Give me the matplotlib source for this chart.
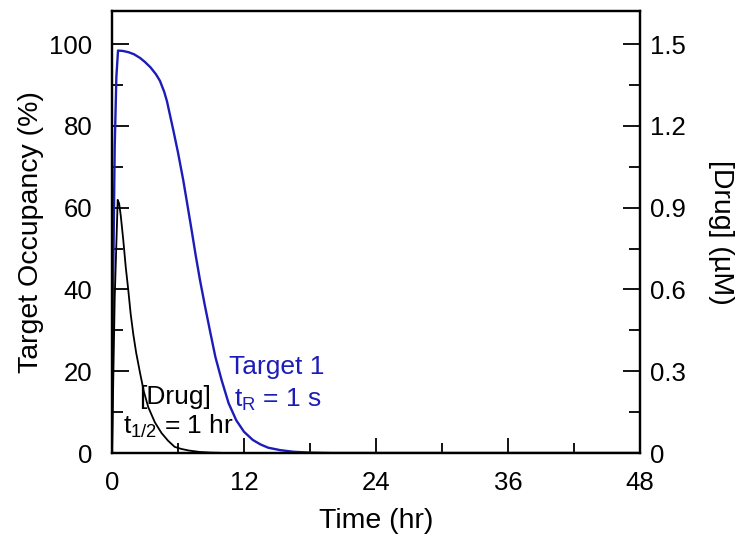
import numpy as np
import matplotlib
matplotlib.use("Agg")
from matplotlib import pyplot as plt
from matplotlib.ticker import MultipleLocator

plt.rcParams['font.family'] = ['Liberation Sans', 'DejaVu Sans']
plt.rcParams['mathtext.fontset'] = 'custom'
plt.rcParams['mathtext.rm'] = 'Liberation Sans'

# Target occupancy (%)
occ_time = [0, 0.1, 0.25, 0.4, 0.55, 1.0, 1.5, 2.0, 2.55, 3.0, 3.5, 4.0, 4.36, 4.75, 5.0,
            5.57, 6.0, 6.48, 6.85, 7.24, 7.6, 8.0, 8.45, 8.9, 9.4, 9.97, 10.6, 11.3,
            12.0, 12.8, 13.5, 14.2, 15.3, 16.5, 18.0, 20.0, 48.0]
occupancy = [0, 40, 75, 92, 98.4, 98.3, 98.0, 97.5, 96.6, 95.6, 94.3, 92.6, 91.0, 88.3, 86.0,
             79.0, 73.5, 66.7, 60.8, 54.5, 48.5, 42.3, 36.0, 30.0, 23.5, 17.8, 12.2, 8.0,
             5.2, 3.2, 2.1, 1.3, 0.7, 0.3, 0.1, 0, 0]

# Drug concentration (uM)
drug_time = [0, 0.25, 0.52, 0.65, 0.8, 1.03, 1.25, 1.48, 1.7, 1.94, 2.2, 2.55, 2.9, 3.3,
             3.9, 4.5, 5.1, 5.7, 6.3, 7.0, 8.0, 9.0, 10.5, 48.0]
drug_conc = [0, 0.57, 0.9285, 0.915, 0.87, 0.78, 0.6825, 0.5985, 0.51, 0.435, 0.3675, 0.294,
             0.225, 0.168, 0.1125, 0.0735, 0.045, 0.0225, 0.015, 0.009, 0.00375, 0.0015, 0, 0]

blue = '#1c1cb8'
tick_fs = 18.5
label_fs = 20.5
note_fs = 19

fig = plt.figure(figsize=(7.47, 5.40), dpi=100)
ax = fig.add_axes([0.1499, 0.1611, 0.7068, 0.8185])
ax2 = ax.twinx()

ax.plot(occ_time, occupancy, color=blue, lw=1.7)
ax2.plot(drug_time, drug_conc, color='black', lw=1.3)

ax.set_xlim(0, 48)
ax.set_ylim(0, 100 * 442 / 409)
ax2.set_ylim(0, 1.5 * 442 / 409)

ax.xaxis.set_major_locator(MultipleLocator(12))
ax.xaxis.set_minor_locator(MultipleLocator(6))
ax.yaxis.set_major_locator(MultipleLocator(20))
ax.yaxis.set_minor_locator(MultipleLocator(10))
ax2.yaxis.set_minor_locator(MultipleLocator(0.15))
ax2.set_yticks([0, 0.3, 0.6, 0.9, 1.2, 1.5])
ax2.set_yticklabels(['0', '0.3', '0.6', '0.9', '1.2', '1.5'])

ax.tick_params(axis='y', which='major', direction='in', length=12, width=1.3, labelsize=tick_fs, pad=14)
ax.tick_params(axis='y', which='minor', direction='in', length=8, width=1.3)
ax.tick_params(axis='x', which='major', direction='in', length=11, width=1.3, labelsize=tick_fs, pad=13)
ax.tick_params(axis='x', which='minor', direction='in', length=7, width=1.3)
ax2.tick_params(axis='y', which='major', direction='in', length=12, width=1.3, labelsize=tick_fs, pad=7)
ax2.tick_params(axis='y', which='minor', direction='in', length=8, width=1.3)

# the top ticks are drawn grey in the original
for t in ax.yaxis.get_major_ticks():
    if abs(t.get_loc() - 100) < 1e-6:
        t.tick1line.set_color('grey')
for t in ax2.yaxis.get_major_ticks():
    if abs(t.get_loc() - 1.5) < 1e-6:
        t.tick2line.set_color('grey')
for t in ax2.yaxis.get_minor_ticks():
    if abs(t.get_loc() - 1.35) < 1e-6:
        t.tick2line.set_color('grey')

for sp in ax.spines.values():
    sp.set_linewidth(1.6)
for sp in ax2.spines.values():
    sp.set_linewidth(1.6)

ax.set_xlabel('Time (hr)', fontsize=label_fs, labelpad=9)
ax.set_ylabel('Target Occupancy (%)', fontsize=label_fs, labelpad=4)
ax2.set_ylabel('[Drug] (\u00b5M)', fontsize=label_fs, rotation=270, labelpad=35)

ax.text(5.73, 13.7, '[Drug]', fontsize=note_fs, ha='center', va='center')
ax.text(1.0, 6.4, r'$\mathregular{t_{1/2}}$ = 1 hr', fontsize=note_fs, ha='left', va='center')
ax.text(14.95, 21.0, 'Target 1', fontsize=note_fs, ha='center', va='center', color=blue)
ax.text(15.05, 13.0, r'$\mathregular{t_R}$ = 1 s', fontsize=note_fs, ha='center', va='center', color=blue)

fig.savefig('out.png', dpi=100)
